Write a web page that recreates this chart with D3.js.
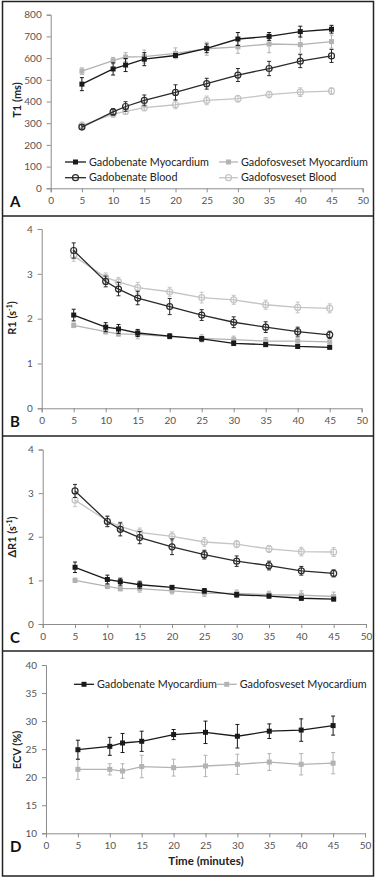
<!DOCTYPE html>
<html>
<head>
<meta charset="utf-8">
<script src="https://cdn.jsdelivr.net/npm/d3@7"></script>
<style>
  body { margin: 0; background: #fff; }
  svg { display: block; }
  text { font-family: Lato, "Open Sans", sans-serif; }
</style>
</head>
<body>
<div id="chart"></div>
<script>
// time points (minutes)
const times = [5, 10, 12, 15, 20, 25, 30, 35, 40, 45];

// A: T1 (ms)
const t1BenMyo = [480, 550, 568, 595, 612, 645, 688, 700, 722, 733];
const t1BenMyoErr = [30, 28, 30, 30, 8, 20, 30, 18, 25, 18];
const t1FosMyo = [540, 588, 605, 607, 622, 643, 652, 665, 662, 676];
const t1FosMyoErr = [15, 15, 20, 30, 25, 30, 30, 40, 40, 30];
const t1BenBlood = [282, 352, 377, 405, 442, 482, 522, 552, 586, 610];
const t1BenBloodErr = [10, 15, 22, 25, 35, 25, 30, 33, 30, 30];
const t1FosBlood = [290, 342, 355, 372, 385, 405, 413, 432, 443, 448];
const t1FosBloodErr = [15, 15, 15, 15, 18, 20, 15, 15, 20, 15];

// B: R1 (1/s)
const r1BenMyo = [2.08, 1.81, 1.77, 1.68, 1.61, 1.55, 1.45, 1.42, 1.38, 1.36];
const r1BenMyoErr = [0.13, 0.1, 0.1, 0.08, 0.05, 0.05, 0.05, 0.04, 0.04, 0.03];
const r1FosMyo = [1.85, 1.71, 1.66, 1.65, 1.60, 1.56, 1.53, 1.50, 1.50, 1.48];
const r1FosMyoErr = [0.05, 0.05, 0.05, 0.1, 0.05, 0.08, 0.08, 0.08, 0.08, 0.08];
const r1BenBlood = [3.52, 2.83, 2.66, 2.46, 2.27, 2.08, 1.92, 1.81, 1.71, 1.64];
const r1BenBloodErr = [0.17, 0.12, 0.15, 0.15, 0.18, 0.12, 0.12, 0.12, 0.1, 0.08];
const r1FosBlood = [3.40, 2.92, 2.82, 2.69, 2.60, 2.47, 2.42, 2.31, 2.25, 2.23];
const r1FosBloodErr = [0.12, 0.1, 0.1, 0.12, 0.1, 0.12, 0.1, 0.1, 0.12, 0.1];

// C: delta R1 (1/s)
const dr1BenMyo = [1.30, 1.02, 0.97, 0.90, 0.84, 0.76, 0.67, 0.64, 0.59, 0.57];
const dr1BenMyoErr = [0.12, 0.1, 0.08, 0.08, 0.04, 0.05, 0.05, 0.04, 0.04, 0.03];
const dr1FosMyo = [1.00, 0.86, 0.81, 0.81, 0.76, 0.71, 0.70, 0.67, 0.66, 0.63];
const dr1FosMyoErr = [0.05, 0.05, 0.05, 0.08, 0.07, 0.08, 0.08, 0.08, 0.1, 0.1];
const dr1BenBlood = [3.05, 2.35, 2.17, 1.98, 1.77, 1.59, 1.44, 1.34, 1.22, 1.16];
const dr1BenBloodErr = [0.15, 0.12, 0.15, 0.14, 0.18, 0.1, 0.12, 0.1, 0.1, 0.08];
const dr1FosBlood = [2.84, 2.36, 2.24, 2.10, 2.01, 1.88, 1.83, 1.72, 1.66, 1.65];
const dr1FosBloodErr = [0.15, 0.12, 0.1, 0.1, 0.1, 0.1, 0.08, 0.08, 0.1, 0.1];

// D: ECV (%)
const ecvBen = [24.9, 25.5, 26.1, 26.4, 27.6, 28.0, 27.3, 28.2, 28.4, 29.2];
const ecvBenErr = [1.7, 1.6, 1.7, 1.8, 0.9, 2.0, 2.1, 1.3, 2.0, 1.7];
const ecvFos = [21.4, 21.4, 21.1, 21.9, 21.7, 22.0, 22.3, 22.7, 22.3, 22.5];
const ecvFosErr = [1.8, 1.0, 1.3, 2.0, 1.5, 1.9, 1.8, 1.5, 1.9, 1.9];

const xTicks = [0, 5, 10, 15, 20, 25, 30, 35, 40, 45, 50];

// series styles
const styles = {
  benMyo:   {name: "Gadobenate Myocardium",  color: "#1a1a1a", shape: "square"},
  fosMyo:   {name: "Gadofosveset Myocardium", color: "#b3b3b3", shape: "square"},
  benBlood: {name: "Gadobenate Blood",       color: "#2a2a2a", shape: "circle"},
  fosBlood: {name: "Gadofosveset Blood",     color: "#c4c4c4", shape: "circle"}
};

const W = 380, H = 877;
const svg = d3.select("#chart").append("svg")
  .attr("width", W).attr("height", H);

// frame and panel separators
svg.append("rect").attr("x", 2.5).attr("y", 1.5).attr("width", 371).attr("height", 874.5)
  .attr("fill", "none").attr("stroke", "#222").attr("stroke-width", 1.5);
[216, 436, 651].forEach(y => {
  svg.append("line").attr("x1", 2.5).attr("x2", 373.5).attr("y1", y).attr("y2", y)
    .attr("stroke", "#222").attr("stroke-width", 1.5);
});

function drawMarker(g, shape, color, cx, cy) {
  if (shape === "square") {
    g.append("rect").attr("x", cx - 2.5).attr("y", cy - 2.5).attr("width", 5).attr("height", 5)
      .attr("fill", color);
  } else {
    g.append("circle").attr("cx", cx).attr("cy", cy).attr("r", 3)
      .attr("fill", "none").attr("stroke", color).attr("stroke-width", 1.2);
  }
}

function panel(cfg) {
  const g = svg.append("g");
  const x = d3.scaleLinear().domain([0, 50]).range([cfg.x0, cfg.x1]);
  const y = d3.scaleLinear().domain(cfg.yDomain).range([cfg.y0, cfg.y1]);

  // axes
  const yAxis = g.append("g").attr("transform", `translate(${cfg.x0},0)`)
    .call(d3.axisLeft(y).tickValues(cfg.yTicks).tickSize(4).tickPadding(5).tickFormat(d3.format("d")));
  const xAxis = g.append("g").attr("transform", `translate(0,${cfg.y0})`)
    .call(d3.axisBottom(x).tickValues(xTicks).tickSize(4).tickPadding(5).tickFormat(d3.format("d")));
  [yAxis, xAxis].forEach(a => {
    a.select(".domain").attr("stroke", "#8c8c8c");
    a.selectAll(".tick line").attr("stroke", "#8c8c8c");
    a.selectAll(".tick text").attr("fill", "#555").style("font-size", "10px")
      .style("font-family", "Lato, sans-serif");
  });

  // series: gray first, then black on top
  cfg.series.forEach(s => {
    const st = styles[s.key];
    const sg = g.append("g");
    const line = d3.line().x((d, i) => x(times[i])).y(d => y(d));
    sg.append("path").datum(s.values).attr("d", line)
      .attr("fill", "none").attr("stroke", st.color).attr("stroke-width", 1.3);
    s.values.forEach((v, i) => {
      const cx = x(times[i]);
      const e = s.err[i];
      sg.append("line").attr("x1", cx).attr("x2", cx).attr("y1", y(v - e)).attr("y2", y(v + e))
        .attr("stroke", st.color).attr("stroke-width", 1);
      [v - e, v + e].forEach(t => {
        sg.append("line").attr("x1", cx - 2).attr("x2", cx + 2).attr("y1", y(t)).attr("y2", y(t))
          .attr("stroke", st.color).attr("stroke-width", 1);
      });
      drawMarker(sg, st.shape, st.color, cx, y(v));
    });
  });

  // y label
  const lab = g.append("text")
    .attr("transform", `translate(${cfg.labX},${cfg.labY}) rotate(-90)`)
    .attr("text-anchor", "middle")
    .attr("font-size", "11px").attr("font-weight", "bold").attr("fill", "#222");
  cfg.label(lab);

  // panel letter
  g.append("text").attr("x", 10).attr("y", cfg.y0 + 19)
    .attr("font-family", "'DejaVu Sans', Arial, sans-serif")
    .attr("font-size", "15px").attr("font-weight", "bold").attr("fill", "#111")
    .text(cfg.letter);

  // legend
  if (cfg.legend) {
    cfg.legend.forEach(item => {
      const st = styles[item.key];
      g.append("line").attr("x1", item.x).attr("x2", item.x + item.len)
        .attr("y1", item.y).attr("y2", item.y).attr("stroke", st.color).attr("stroke-width", 1.3);
      drawMarker(g, st.shape, st.color, item.x + item.len / 2, item.y);
      g.append("text").attr("x", item.x + item.len + 3).attr("y", item.y).attr("dy", "0.35em")
        .attr("font-size", "10.8px").attr("fill", "#222").text(st.name);
    });
  }
  return {x, y};
}

// Panel A
panel({
  x0: 50.7, x1: 362.7, y0: 188.3, y1: 14.7, yDomain: [0, 800],
  yTicks: d3.range(0, 801, 100), letter: "A", labX: 21, labY: 100,
  label: t => t.text("T1 (ms)"),
  series: [
    {key: "fosBlood", values: t1FosBlood, err: t1FosBloodErr},
    {key: "fosMyo", values: t1FosMyo, err: t1FosMyoErr},
    {key: "benBlood", values: t1BenBlood, err: t1BenBloodErr},
    {key: "benMyo", values: t1BenMyo, err: t1BenMyoErr}
  ],
  legend: [
    {key: "benMyo", x: 65, y: 162, len: 21},
    {key: "fosMyo", x: 219, y: 162, len: 19},
    {key: "benBlood", x: 65, y: 177.7, len: 21},
    {key: "fosBlood", x: 219, y: 177.7, len: 19}
  ]
});

// Panel B
panel({
  x0: 41.7, x1: 361.7, y0: 408.3, y1: 229, yDomain: [0, 4],
  yTicks: [0, 1, 2, 3, 4], letter: "B", labX: 16, labY: 318,
  label: t => {
    t.append("tspan").text("R1 (s");
    t.append("tspan").attr("dy", "-4").attr("font-size", "7px").text("-1");
    t.append("tspan").attr("dy", "4").text(")");
  },
  series: [
    {key: "fosBlood", values: r1FosBlood, err: r1FosBloodErr},
    {key: "fosMyo", values: r1FosMyo, err: r1FosMyoErr},
    {key: "benBlood", values: r1BenBlood, err: r1BenBloodErr},
    {key: "benMyo", values: r1BenMyo, err: r1BenMyoErr}
  ]
});

// Panel C
panel({
  x0: 42.7, x1: 366, y0: 624, y1: 449.5, yDomain: [0, 4],
  yTicks: [0, 1, 2, 3, 4], letter: "C", labX: 16, labY: 537,
  label: t => {
    t.append("tspan").text("ΔR1 (s");
    t.append("tspan").attr("dy", "-4").attr("font-size", "7px").text("-1");
    t.append("tspan").attr("dy", "4").text(")");
  },
  series: [
    {key: "fosBlood", values: dr1FosBlood, err: dr1FosBloodErr},
    {key: "fosMyo", values: dr1FosMyo, err: dr1FosMyoErr},
    {key: "benBlood", values: dr1BenBlood, err: dr1BenBloodErr},
    {key: "benMyo", values: dr1BenMyo, err: dr1BenMyoErr}
  ]
});

// Panel D
panel({
  x0: 46, x1: 365, y0: 833.3, y1: 665, yDomain: [10, 40],
  yTicks: [10, 15, 20, 25, 30, 35, 40], letter: "D", labX: 21, labY: 750,
  label: t => t.text("ECV (%)"),
  series: [
    {key: "fosMyo", values: ecvFos, err: ecvFosErr},
    {key: "benMyo", values: ecvBen, err: ecvBenErr}
  ],
  legend: [
    {key: "benMyo", x: 74, y: 684.3, len: 20},
    {key: "fosMyo", x: 216.7, y: 684.3, len: 20}
  ]
});

svg.append("text").attr("x", 206).attr("y", 861).attr("dy", "0.35em")
  .attr("text-anchor", "middle").attr("font-size", "11.5px").attr("font-weight", "bold")
  .attr("fill", "#222").text("Time (minutes)");
</script>
</body>
</html>
